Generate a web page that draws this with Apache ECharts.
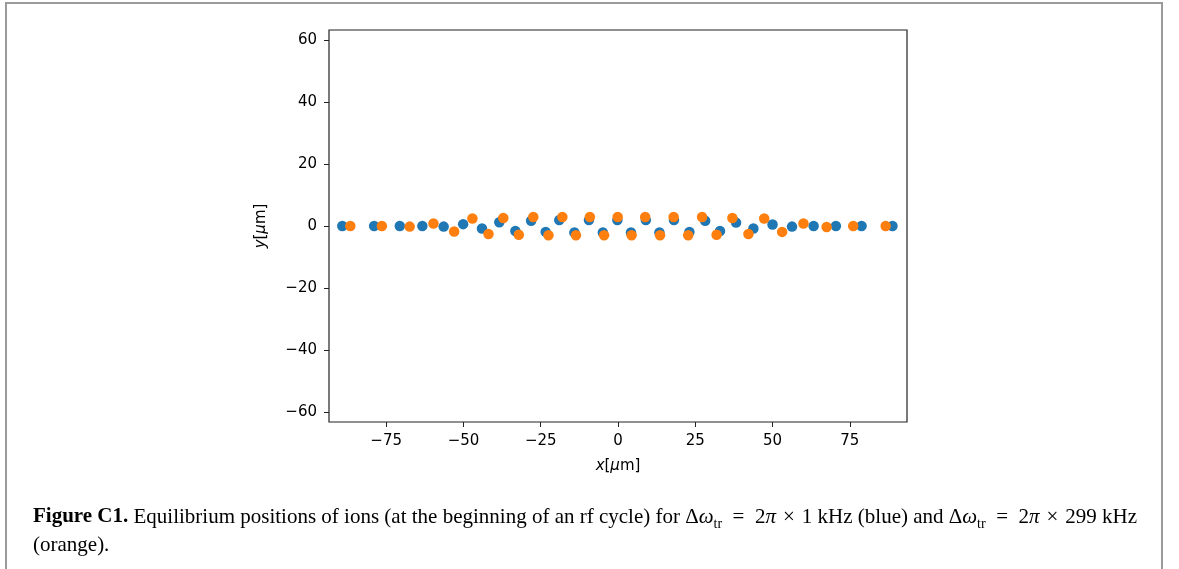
<!DOCTYPE html>
<html>
<head>
<meta charset="utf-8">
<script src="https://cdn.jsdelivr.net/npm/echarts@6/dist/echarts.min.js"></script>
<style>
html,body{margin:0;padding:0;background:#fff;}
#c{width:1179px;height:569px;}
</style>
</head>
<body>
<div id="c"></div>
<script>
// Data (x, y in µm)
const blueX = [-89.2,-78.9,-70.6,-63.3,-56.4,-50.1,-44.0,-38.4,-33.2,-28.1,-23.4,-19.0,-14.1,-9.4,-4.9,-0.2,4.2,9.0,13.4,18.1,23.1,28.2,33.0,38.2,43.8,50.0,56.3,63.3,70.5,78.8,88.8];
const blueY = [0,0,0,0,-0.2,0.6,-0.8,1.2,-1.6,1.7,-1.9,1.9,-2.1,1.9,-2.1,1.9,-2.1,1.9,-2.1,1.9,-1.9,1.7,-1.6,1.1,-0.8,0.5,-0.2,0,0,0,0];
const orangeX = [-86.6,-76.4,-67.4,-59.7,-53.0,-47.1,-41.9,-37.1,-32.1,-27.4,-22.5,-18.0,-13.6,-9.1,-4.5,-0.1,4.4,8.8,13.6,18.0,22.7,27.2,31.9,37.0,42.2,47.3,53.1,60.0,67.5,76.1,86.6];
const orangeY = [0,0,-0.2,0.8,-1.8,2.4,-2.6,2.6,-2.8,2.9,-3.0,2.9,-3.0,2.9,-3.0,2.9,-3.0,2.9,-3.0,2.9,-3.0,2.9,-2.8,2.6,-2.6,2.4,-1.9,0.8,-0.3,0,0];
const xTicks = [-75,-50,-25,0,25,50,75];
const yTicks = [-60,-40,-20,0,20,40,60];

const zip = (xs, ys) => xs.map((x, i) => [x, ys[i]]);
const fmt = v => (v < 0 ? '\u2212' + Math.abs(v) : String(v));

const chart = echarts.init(document.getElementById('c'), null, {renderer: 'canvas'});
const axisFont = {fontFamily: 'DejaVu Sans', fontSize: 15, color: '#000'};
const italic = {fontFamily: 'DejaVu Sans', fontStyle: 'italic', fontSize: 15, color: '#000'};
const sp = '\u2002';
const sp2 = '\u2004';

chart.setOption({
  animation: false,
  backgroundColor: '#fff',
  grid: {left: 329, top: 30, right: 1179 - 907, bottom: 569 - 422, show: true, borderColor: '#222', borderWidth: 1.2, backgroundColor: 'transparent'},
  xAxis: {
    type: 'value', min: -93.5, max: 93.5,
    axisLine: {show: false, onZero: false},
    splitLine: {show: false},
    axisTick: {show: true, length: 5, customValues: xTicks, lineStyle: {color: '#222'}},
    axisLabel: Object.assign({customValues: xTicks, margin: 12, formatter: fmt}, axisFont),
    name: '{i|x}[{i|\u03bc}m]', nameLocation: 'middle', nameGap: 37,
    nameTextStyle: Object.assign({rich: {i: italic}}, axisFont)
  },
  yAxis: {
    type: 'value', min: -63.25, max: 63.25,
    axisLine: {show: false, onZero: false},
    splitLine: {show: false},
    axisTick: {show: true, length: 5, customValues: yTicks, lineStyle: {color: '#222'}},
    axisLabel: Object.assign({customValues: yTicks, margin: 12, formatter: fmt}, axisFont),
    name: '{i|y}[{i|\u03bc}m]', nameLocation: 'middle', nameGap: 60, nameRotate: 90,
    nameTextStyle: Object.assign({rich: {i: italic}}, axisFont)
  },
  series: [
    {type: 'scatter', data: zip(blueX, blueY), symbolSize: 10.5, itemStyle: {color: '#1f77b4', opacity: 1}, z: 2},
    {type: 'scatter', data: zip(orangeX, orangeY), symbolSize: 10.5, itemStyle: {color: '#ff7f0e', opacity: 1}, z: 3}
  ],
  title: {
    left: 28, top: 498,
    text: '{b|Figure C1.} Equilibrium positions of ions (at the beginning of an rf cycle) for \u0394{i|\u03c9}{s|tr}' + sp + '=' + sp + '2{i|\u03c0}' + sp2 + '\u00d7' + sp2 + '1 kHz (blue) and \u0394{i|\u03c9}{s|tr}' + sp + '=' + sp + '2{i|\u03c0}' + sp2 + '\u00d7' + sp2 + '299 kHz\n(orange).',
    textStyle: {
      fontFamily: 'Liberation Serif', fontSize: 21, color: '#000', fontWeight: 'normal', lineHeight: 28,
      rich: {
        b: {fontFamily: 'Liberation Serif', fontSize: 21, fontWeight: 'bold', color: '#000', lineHeight: 28},
        i: {fontFamily: 'Liberation Serif', fontSize: 21, fontStyle: 'italic', color: '#000', lineHeight: 28},
        s: {fontFamily: 'Liberation Serif', fontSize: 14, color: '#000', lineHeight: 18, verticalAlign: 'bottom'}
      }
    }
  },
  graphic: [
    {type: 'rect', shape: {x: 6, y: 3, width: 1156, height: 600}, style: {fill: 'none', stroke: '#9a9a9a', lineWidth: 2}, silent: true}
  ]
});
</script>
</body>
</html>
